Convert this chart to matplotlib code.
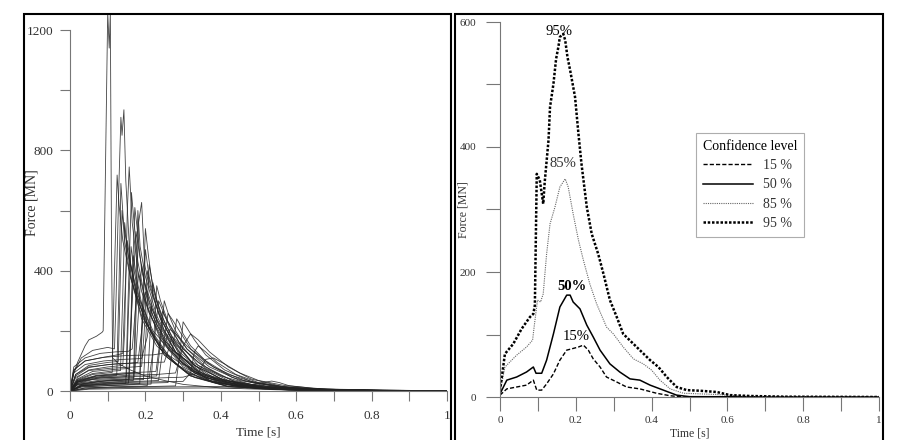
import matplotlib
matplotlib.use("Agg")
import matplotlib.pyplot as plt
from matplotlib.patches import Rectangle

plt.rcParams['font.family'] = ['Liberation Serif', 'DejaVu Serif']

# ---- left panel: individual simulations (time [s], force [MN]) ----
runs = [
    ([0, 0.01, 0.02, 0.04, 0.05, 0.07, 0.085, 0.088, 0.1, 0.104, 0.107, 0.11, 0.113, 0.13, 0.16, 0.2, 0.25, 0.3, 0.4, 0.55, 0.8, 1.0],
     [0, 60, 95, 150, 170, 182, 195, 200, 1260, 1140, 1260, 500, 110, 90, 70, 50, 35, 22, 10, 4, 1, 0]),
    ([0, 0.01, 0.03, 0.06, 0.1, 0.118, 0.122, 0.13, 0.135, 0.138, 0.143, 0.148, 0.16, 0.18, 0.22, 0.28, 0.35, 0.45, 0.6, 0.8, 1.0],
     [0, 60, 110, 135, 145, 140, 300, 700, 910, 850, 935, 700, 420, 300, 180, 90, 40, 15, 5, 1, 0]),
    ([0, 0.02, 0.05, 0.1, 0.14, 0.145, 0.152, 0.157, 0.165, 0.18, 0.21, 0.26, 0.33, 0.42, 0.6, 1.0],
     [0, 45, 70, 80, 85, 200, 600, 745, 560, 400, 260, 140, 60, 20, 4, 0]),
    ([0, 0.02, 0.06, 0.1, 0.112, 0.118, 0.125, 0.13, 0.14, 0.16, 0.2, 0.26, 0.35, 0.5, 1.0],
     [0, 35, 55, 60, 62, 400, 718, 620, 500, 380, 230, 120, 45, 10, 0]),
    ([0, 0.02, 0.06, 0.1, 0.124, 0.13, 0.135, 0.142, 0.155, 0.18, 0.22, 0.3, 0.4, 0.55, 1.0],
     [0, 30, 45, 50, 52, 350, 690, 560, 450, 320, 200, 90, 30, 8, 0]),
    ([0, 0.02, 0.06, 0.12, 0.17, 0.175, 0.182, 0.19, 0.198, 0.21, 0.24, 0.29, 0.36, 0.46, 0.65, 1.0],
     [0, 25, 38, 42, 45, 250, 560, 627, 420, 350, 240, 130, 55, 20, 4, 0]),
    ([0, 0.02, 0.06, 0.12, 0.158, 0.163, 0.172, 0.18, 0.19, 0.21, 0.25, 0.32, 0.4, 0.55, 1.0],
     [0, 40, 65, 72, 75, 300, 610, 520, 400, 300, 170, 70, 25, 5, 0]),
    ([0, 0.02, 0.08, 0.14, 0.168, 0.174, 0.18, 0.186, 0.2, 0.23, 0.28, 0.35, 0.45, 0.6, 1.0],
     [0, 20, 28, 32, 35, 300, 600, 480, 380, 250, 130, 55, 18, 4, 0]),
    ([0, 0.015, 0.05, 0.1, 0.128, 0.133, 0.138, 0.145, 0.16, 0.19, 0.24, 0.31, 0.4, 0.55, 1.0],
     [0, 55, 85, 95, 98, 350, 600, 500, 380, 250, 140, 60, 22, 5, 0]),
    ([0, 0.03, 0.1, 0.155, 0.163, 0.175, 0.185, 0.2, 0.23, 0.28, 0.36, 0.46, 0.65, 1.0],
     [0, 18, 24, 26, 250, 530, 450, 350, 240, 130, 50, 15, 3, 0]),
    ([0, 0.01, 0.04, 0.08, 0.125, 0.14, 0.145, 0.152, 0.16, 0.175, 0.2, 0.25, 0.32, 0.42, 0.6, 1.0],
     [0, 70, 100, 110, 120, 125, 300, 500, 430, 330, 230, 120, 50, 15, 3, 0]),
    ([0, 0.02, 0.07, 0.13, 0.15, 0.155, 0.162, 0.17, 0.185, 0.21, 0.25, 0.32, 0.42, 0.6, 1.0],
     [0, 28, 42, 46, 48, 260, 480, 400, 300, 210, 120, 50, 15, 3, 0]),
    ([0, 0.03, 0.1, 0.17, 0.185, 0.192, 0.2, 0.21, 0.225, 0.25, 0.3, 0.38, 0.48, 0.65, 1.0],
     [0, 14, 18, 22, 24, 220, 470, 380, 300, 200, 110, 45, 14, 3, 0]),
    ([0, 0.02, 0.08, 0.15, 0.195, 0.202, 0.21, 0.22, 0.24, 0.27, 0.32, 0.4, 0.5, 0.65, 1.0],
     [0, 22, 32, 36, 38, 200, 420, 350, 260, 180, 100, 40, 13, 3, 0]),
    ([0, 0.02, 0.07, 0.13, 0.172, 0.18, 0.19, 0.2, 0.22, 0.25, 0.3, 0.37, 0.47, 0.62, 1.0],
     [0, 32, 50, 56, 60, 230, 420, 340, 250, 170, 90, 35, 10, 2, 0]),
    ([0, 0.01, 0.04, 0.08, 0.12, 0.155, 0.165, 0.172, 0.182, 0.19, 0.21, 0.24, 0.29, 0.36, 0.46, 0.62, 1.0],
     [0, 80, 110, 125, 130, 132, 140, 250, 390, 330, 260, 180, 100, 45, 15, 3, 0]),
    ([0, 0.04, 0.12, 0.19, 0.205, 0.212, 0.22, 0.23, 0.25, 0.28, 0.33, 0.41, 0.52, 0.7, 1.0],
     [0, 10, 14, 16, 18, 180, 360, 300, 230, 160, 85, 35, 10, 2, 0]),
    ([0, 0.015, 0.05, 0.1, 0.15, 0.18, 0.19, 0.2, 0.21, 0.23, 0.27, 0.33, 0.42, 0.55, 0.75, 1.0],
     [0, 50, 78, 88, 92, 95, 200, 330, 280, 220, 140, 65, 25, 6, 1, 0]),
    ([0, 0.02, 0.08, 0.15, 0.21, 0.222, 0.235, 0.245, 0.265, 0.3, 0.36, 0.44, 0.55, 0.72, 1.0],
     [0, 25, 36, 40, 42, 150, 300, 270, 210, 140, 75, 30, 9, 2, 0]),
    ([0, 0.02, 0.07, 0.14, 0.2, 0.228, 0.237, 0.245, 0.255, 0.275, 0.31, 0.37, 0.45, 0.56, 0.72, 1.0],
     [0, 35, 52, 60, 63, 65, 150, 265, 240, 200, 140, 80, 35, 12, 3, 0]),
    ([0, 0.03, 0.1, 0.18, 0.235, 0.245, 0.26, 0.27, 0.29, 0.32, 0.38, 0.46, 0.56, 0.72, 1.0],
     [0, 20, 28, 32, 35, 130, 258, 240, 200, 140, 80, 35, 12, 3, 0]),
    ([0, 0.03, 0.1, 0.2, 0.26, 0.27, 0.283, 0.29, 0.3, 0.32, 0.36, 0.42, 0.5, 0.6, 0.75, 1.0],
     [0, 16, 22, 26, 28, 120, 240, 225, 190, 150, 100, 55, 25, 9, 2, 0]),
    ([0, 0.02, 0.07, 0.15, 0.23, 0.28, 0.3, 0.32, 0.34, 0.37, 0.42, 0.48, 0.56, 0.68, 1.0],
     [0, 30, 45, 52, 55, 60, 150, 190, 170, 130, 80, 40, 16, 4, 0]),
    ([0, 0.03, 0.1, 0.2, 0.3, 0.34, 0.36, 0.38, 0.41, 0.45, 0.5, 0.57, 0.67, 0.8, 1.0],
     [0, 22, 35, 42, 46, 60, 105, 110, 90, 60, 35, 18, 7, 2, 0]),
    ([0, 0.05, 0.15, 0.3, 0.42, 0.48, 0.51, 0.535, 0.555, 0.58, 0.65, 0.75, 0.9, 1.0],
     [0, 8, 12, 14, 15, 18, 28, 33, 28, 18, 8, 3, 1, 0]),
    ([0, 0.05, 0.2, 0.35, 0.45, 0.5, 0.58, 0.7, 0.85, 1.0],
     [0, 6, 9, 10, 10, 12, 8, 4, 1, 0]),
    ([0, 0.02, 0.08, 0.14, 0.157, 0.162, 0.168, 0.176, 0.19, 0.22, 0.26, 0.33, 0.42, 0.58, 1.0],
     [0, 22, 33, 36, 38, 220, 450, 380, 290, 190, 110, 45, 14, 3, 0]),
    ([0, 0.015, 0.05, 0.11, 0.17, 0.19, 0.197, 0.205, 0.215, 0.235, 0.27, 0.33, 0.41, 0.52, 0.7, 1.0],
     [0, 45, 68, 76, 80, 82, 200, 400, 340, 260, 170, 85, 35, 10, 2, 0]),
    ([0, 0.03, 0.1, 0.18, 0.215, 0.222, 0.23, 0.24, 0.26, 0.29, 0.34, 0.42, 0.52, 0.7, 1.0],
     [0, 13, 18, 21, 23, 170, 350, 300, 230, 160, 85, 35, 10, 2, 0]),
    ([0, 0.02, 0.08, 0.16, 0.23, 0.24, 0.25, 0.26, 0.28, 0.31, 0.36, 0.43, 0.52, 0.68, 1.0],
     [0, 30, 44, 48, 50, 160, 300, 260, 200, 140, 80, 35, 12, 3, 0]),
    ([0, 0.02, 0.06, 0.11, 0.134, 0.14, 0.145, 0.152, 0.165, 0.19, 0.23, 0.3, 0.38, 0.5, 0.7, 1.0],
     [0, 38, 58, 66, 68, 320, 560, 470, 360, 240, 150, 70, 28, 8, 1, 0]),
    ([0, 0.01, 0.04, 0.09, 0.14, 0.19, 0.205, 0.215, 0.225, 0.245, 0.28, 0.34, 0.42, 0.52, 0.7, 1.0],
     [0, 60, 88, 100, 105, 108, 180, 280, 250, 200, 130, 65, 28, 9, 2, 0]),
    ([0, 0.04, 0.12, 0.22, 0.28, 0.29, 0.3, 0.31, 0.33, 0.36, 0.41, 0.48, 0.57, 0.72, 1.0],
     [0, 10, 13, 15, 17, 110, 230, 210, 170, 120, 70, 32, 12, 3, 0]),
    ([0, 0.015, 0.05, 0.12, 0.2, 0.25, 0.262, 0.27, 0.28, 0.3, 0.34, 0.4, 0.48, 0.58, 0.75, 1.0],
     [0, 55, 80, 90, 94, 96, 140, 180, 170, 140, 95, 50, 22, 8, 2, 0]),
    ([0, 0.03, 0.1, 0.2, 0.3, 0.32, 0.33, 0.34, 0.36, 0.39, 0.44, 0.5, 0.58, 0.7, 1.0],
     [0, 18, 26, 30, 32, 60, 130, 150, 130, 95, 55, 28, 12, 3, 0]),
    ([0, 0.01, 0.04, 0.09, 0.15, 0.22, 0.245, 0.255, 0.265, 0.28, 0.31, 0.36, 0.43, 0.52, 0.68, 1.0],
     [0, 70, 100, 112, 118, 120, 125, 170, 205, 190, 150, 95, 45, 16, 3, 0]),
    ([0, 0.03, 0.1, 0.148, 0.154, 0.163, 0.17, 0.18, 0.2, 0.24, 0.3, 0.38, 0.5, 0.7, 1.0],
     [0, 17, 23, 25, 300, 660, 560, 430, 300, 170, 80, 30, 8, 1, 0]),
    ([0, 0.02, 0.07, 0.14, 0.185, 0.193, 0.2, 0.208, 0.22, 0.245, 0.29, 0.35, 0.44, 0.58, 1.0],
     [0, 33, 50, 56, 58, 300, 540, 450, 340, 230, 120, 50, 16, 3, 0]),
]

# ---- right panel: confidence level curves ----
t95 = [0, 0.013, 0.035, 0.057, 0.079, 0.088, 0.092, 0.097, 0.105, 0.114, 0.118, 0.128, 0.132, 0.141, 0.148,
       0.154, 0.158, 0.163, 0.167, 0.172, 0.178, 0.185, 0.198, 0.207, 0.215, 0.229, 0.242, 0.259, 0.273, 0.29,
       0.308, 0.325, 0.347, 0.369, 0.396, 0.418, 0.44, 0.466, 0.493, 0.528, 0.572, 0.607, 0.66, 0.75, 1.0]
f95 = [10, 69, 85, 109, 128, 133, 147, 357, 347, 309, 344, 411, 464, 501, 541,
       560, 576, 579, 581, 571, 544, 523, 480, 421, 373, 304, 261, 229, 197, 155,
       128, 101, 88, 75, 59, 48, 32, 16, 11, 10, 8, 3, 1.6, 0.5, 0]
t85 = [0, 0.013, 0.044, 0.07, 0.086, 0.09, 0.099, 0.107, 0.114, 0.123, 0.132, 0.145, 0.158, 0.172, 0.18,
       0.193, 0.207, 0.22, 0.237, 0.255, 0.281, 0.299, 0.325, 0.352, 0.378, 0.4, 0.422, 0.449, 0.484, 0.528,
       0.572, 0.66, 1.0]
f85 = [8, 48, 67, 80, 91, 112, 155, 152, 165, 229, 277, 304, 336, 349, 336,
       293, 251, 219, 181, 149, 112, 101, 80, 61, 53, 43, 27, 13, 6, 5,
       4, 1, 0]
t50 = [0, 0.018, 0.044, 0.07, 0.088, 0.095, 0.11, 0.123, 0.141, 0.158, 0.176, 0.185, 0.193, 0.211, 0.229,
       0.246, 0.264, 0.29, 0.316, 0.343, 0.369, 0.396, 0.431, 0.466, 0.5, 1.0]
f50 = [5, 27, 32, 40, 48, 38, 38, 59, 101, 144, 163, 163, 152, 141, 115,
       96, 75, 53, 40, 29, 27, 19, 11, 3, 0.5, 0]
t15 = [0, 0.018, 0.044, 0.07, 0.088, 0.097, 0.11, 0.123, 0.141, 0.158, 0.176, 0.189, 0.207, 0.22, 0.233,
       0.246, 0.264, 0.281, 0.308, 0.334, 0.369, 0.413, 0.449, 0.484, 1.0]
f15 = [3, 13, 16, 19, 27, 11, 11, 21, 37, 59, 75, 77, 80, 83, 75,
       61, 48, 32, 24, 16, 13, 6, 2, 0, 0]

fig = plt.figure(figsize=(9, 4.4), dpi=100)

# frames around the two panels
fig.add_artist(Rectangle((24 / 900, -0.01), 427 / 900, (440 - 14) / 440 + 0.01,
                         transform=fig.transFigure, fill=False, lw=1.5, ec='black'))
fig.add_artist(Rectangle((455 / 900, -0.01), 428 / 900, (440 - 14) / 440 + 0.01,
                         transform=fig.transFigure, fill=False, lw=1.5, ec='black'))


def style_axes(ax, ymax_spine, fs, tlen, xpad, ypad):
    for s in ['top', 'right']:
        ax.spines[s].set_visible(False)
    for s in ['left', 'bottom']:
        ax.spines[s].set_color('#777777')
        ax.spines[s].set_linewidth(0.8)
    ax.spines['left'].set_bounds(0, ymax_spine)
    ax.spines['bottom'].set_bounds(0, 1)
    ax.set_xticks([0, 0.2, 0.4, 0.6, 0.8, 1.0])
    ax.set_xticklabels(['0', '0.2', '0.4', '0.6', '0.8', '1'])
    ax.set_xticks([0.1, 0.3, 0.5, 0.7, 0.9], minor=True)
    ax.tick_params(which='both', direction='out', color='#777777', width=0.8, labelsize=fs,
                   labelcolor='#333333', length=tlen)
    ax.tick_params(axis='x', which='both', pad=xpad)
    ax.tick_params(axis='y', which='both', pad=ypad)


# left panel
ax1 = fig.add_axes([70 / 900, 49 / 440, 377 / 900, 376 / 440])
for t, f in runs:
    ax1.plot(t, f, color='#222222', lw=0.6, alpha=0.85)
ax1.set_xlim(0, 1)
ax1.set_ylim(0, 1250)
ax1.set_yticks([0, 400, 800, 1200])
ax1.set_yticks([200, 600, 1000], minor=True)
style_axes(ax1, 1200, 9.5, 7, 7, 5)
ax1.set_xlabel('Time [s]', fontsize=9.5, color='#333333')
ax1.xaxis.set_label_coords(0.5, -(432 - 391) / 376)
ax1.xaxis.label.set_va('center')
ax1.set_ylabel('Force [MN]', fontsize=10, color='#333333')
ax1.yaxis.set_label_coords(-(70 - 32) / 377, 0.5)
ax1.yaxis.label.set_va('center')

# right panel
ax2 = fig.add_axes([500 / 900, 43 / 440, 379 / 900, 375 / 440])
ax2.plot(t15, f15, color='black', lw=1.0, ls=(0, (3, 1.5)), label='15 %')
ax2.plot(t50, f50, color='black', lw=1.1, ls='-', label='50 %')
ax2.plot(t85, f85, color='#666666', lw=0.8, ls=(0, (1, 1)), label='85 %')
ax2.plot(t95, f95, color='black', lw=1.8, ls=(0, (1, 0.7)), label='95 %')
ax2.set_xlim(0, 1)
ax2.set_ylim(0, 600)
ax2.set_yticks([0, 200, 400, 600])
ax2.set_yticks([100, 300, 500], minor=True)
style_axes(ax2, 600, 8, 10, 4, 7)
ax2.set_xlabel('Time [s]', fontsize=8.5, color='#333333')
ax2.xaxis.set_label_coords(0.5, -(433 - 397) / 375)
ax2.xaxis.label.set_va('center')
ax2.set_ylabel('Force [MN]', fontsize=8.5, color='#333333')
ax2.yaxis.set_label_coords(-(500 - 463) / 379, 0.5)
ax2.yaxis.label.set_va('center')

ax2.text(0.155, 585, '95%', fontsize=10.5, ha='center', va='center')
ax2.text(0.167, 374, '85%', fontsize=10.5, ha='center', va='center', color='#333333')
ax2.text(0.19, 176, '50%', fontsize=10.5, ha='center', va='center', fontweight='bold')
ax2.text(0.202, 96, '15%', fontsize=10.5, ha='center', va='center')

leg = ax2.legend(title='Confidence level', loc='upper left', bbox_to_anchor=(0.517, 0.704),
                 borderaxespad=0, fontsize=10, title_fontsize=10, frameon=True, fancybox=False,
                 edgecolor='#999999', handlelength=3.6, handletextpad=0.7,
                 labelspacing=0.45, borderpad=0.5)
leg.get_frame().set_linewidth(0.8)
leg._legend_box.align = 'left'
for txt in leg.get_texts():
    txt.set_color('#333333')

fig.savefig('out.png', dpi=100)
